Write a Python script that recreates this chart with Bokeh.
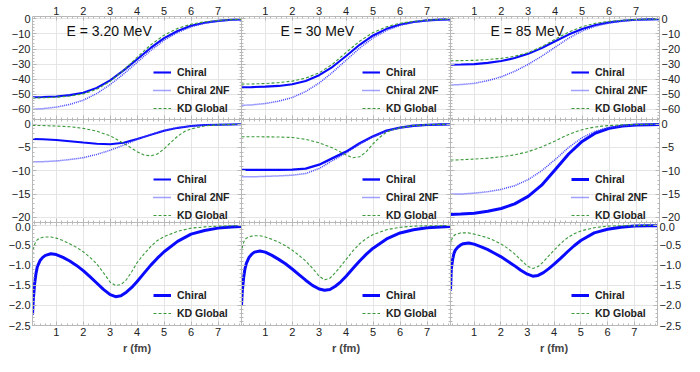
import numpy as np
from bokeh.plotting import figure
from bokeh.layouts import column, row
from bokeh.models import Range1d, LinearAxis, FixedTicker, Label, CustomLabelingPolicy
from bokeh.embed import file_html
from bokeh.resources import INLINE

# ---------------- data ----------------
ENERGIES = ["E = 3.20 MeV", "E = 30 MeV", "E = 85 MeV"]

R_V = [0.12, 0.5, 1.0, 1.5, 2.0, 2.5, 3.0, 3.5, 4.0, 4.5, 5.0, 5.5, 6.0, 6.5, 7.0, 7.5, 7.87]
VV_CHIRAL = [
    [-52.0, -51.9, -51.5, -50.6, -49.0, -45.8, -40.8, -34.2, -26.8, -19.3, -12.8, -8.0, -4.6, -2.5, -1.3, -0.6, -0.4],
    [-45.4, -45.3, -45.0, -44.5, -43.4, -41.2, -37.4, -31.8, -24.6, -17.2, -11.0, -6.6, -3.7, -2.0, -1.0, -0.5, -0.3],
    [-30.4, -30.3, -30.0, -29.2, -28.0, -26.0, -23.2, -19.4, -14.8, -10.4, -6.7, -4.0, -2.3, -1.2, -0.6, -0.3, -0.2],
]
VV_2NF = [
    [-60.0, -59.6, -58.6, -56.8, -54.0, -49.6, -43.6, -36.6, -28.8, -21.0, -14.2, -9.0, -5.3, -2.9, -1.5, -0.8, -0.5],
    [-57.4, -57.1, -56.2, -54.6, -52.2, -48.2, -42.6, -35.4, -27.4, -19.4, -12.6, -7.6, -4.3, -2.3, -1.2, -0.6, -0.4],
    [-43.9, -43.6, -42.8, -41.0, -38.5, -34.8, -30.2, -24.8, -18.8, -12.8, -8.0, -4.8, -2.7, -1.4, -0.7, -0.4, -0.2],
]
VV_KD = [
    [-52.5, -52.4, -52.0, -51.2, -49.8, -46.8, -41.5, -34.0, -25.5, -17.3, -10.8, -6.3, -3.5, -1.9, -1.0, -0.5, -0.3],
    [-43.3, -43.2, -42.9, -42.3, -41.3, -39.3, -35.8, -30.0, -22.3, -14.8, -9.0, -5.2, -2.9, -1.6, -0.8, -0.4, -0.2],
    [-27.8, -27.7, -27.5, -27.0, -26.2, -24.8, -22.4, -18.5, -13.5, -8.8, -5.2, -2.9, -1.6, -0.8, -0.4, -0.2, -0.1],
]

R_W = [0.12, 0.5, 1.0, 1.5, 2.0, 2.5, 3.0, 3.5, 4.0, 4.5, 5.0, 5.5, 6.0, 6.5, 7.0, 7.5, 7.87]
W_CHIRAL = [
    [-3.2, -3.25, -3.4, -3.65, -3.95, -4.2, -4.3, -4.0, -3.2, -2.3, -1.4, -0.8, -0.4, -0.2, -0.1, -0.05, -0.03],
    [-9.8, -9.8, -9.8, -9.8, -9.75, -9.55, -8.7, -7.3, -5.9, -4.1, -2.6, -1.4, -0.75, -0.35, -0.15, -0.07, -0.04],
    [-19.4, -19.3, -19.1, -18.7, -18.1, -17.1, -15.5, -13.1, -9.8, -6.4, -3.7, -1.9, -0.9, -0.4, -0.2, -0.1, -0.05],
]
W_2NF = [
    [-8.1, -8.05, -7.9, -7.6, -7.2, -6.5, -5.6, -4.5, -3.3, -2.2, -1.3, -0.7, -0.4, -0.2, -0.1, -0.05, -0.03],
    [-11.3, -11.3, -11.2, -11.1, -10.95, -10.6, -9.5, -7.8, -6.2, -4.3, -2.7, -1.5, -0.8, -0.4, -0.17, -0.08, -0.05],
    [-15.0, -15.0, -14.8, -14.5, -14.0, -13.2, -11.9, -10.0, -7.6, -5.0, -2.9, -1.5, -0.7, -0.35, -0.15, -0.07, -0.04],
]
R_W_KD = [0.12, 0.5, 1.0, 1.5, 2.0, 2.5, 3.0, 3.5, 4.0, 4.25, 4.5, 4.75, 5.0, 5.25, 5.5, 5.75, 6.0, 6.5, 7.0, 7.5, 7.87]
W_KD = [
    [-0.3, -0.3, -0.4, -0.55, -0.9, -1.5, -2.5, -4.1, -5.9, -6.6, -6.8, -6.4, -5.3, -3.9, -2.6, -1.6, -1.0, -0.4, -0.15, -0.06, -0.03],
    [-2.7, -2.7, -2.72, -2.76, -2.85, -3.25, -4.0, -5.1, -6.6, -7.2, -7.0, -5.9, -4.2, -2.8, -1.7, -1.15, -0.75, -0.3, -0.12, -0.05, -0.03],
    [-7.7, -7.65, -7.5, -7.3, -7.0, -6.6, -5.9, -4.9, -3.6, -2.9, -2.2, -1.65, -1.2, -0.85, -0.6, -0.42, -0.3, -0.15, -0.07, -0.03, -0.02],
]

R_SO = [0.12, 0.15, 0.2, 0.25, 0.3, 0.4, 0.5, 0.6, 0.8, 1.0, 1.25, 1.5, 1.75, 2.0, 2.25, 2.5, 2.75,
        3.0, 3.2, 3.4, 3.6, 3.8, 4.0, 4.25, 4.5, 4.75, 5.0, 5.5, 6.0, 6.5, 7.0, 7.5, 7.87]
SO_CHIRAL = [
    [-2.23, -1.85, -1.45, -1.2, -1.03, -0.88, -0.80, -0.75, -0.71, -0.73, -0.80, -0.89, -1.0, -1.13, -1.28, -1.44, -1.60,
     -1.73, -1.78, -1.76, -1.67, -1.55, -1.40, -1.20, -1.00, -0.82, -0.66, -0.40, -0.22, -0.13, -0.07, -0.04, -0.03],
    [-1.99, -1.65, -1.3, -1.08, -0.95, -0.80, -0.72, -0.67, -0.64, -0.67, -0.75, -0.85, -0.96, -1.09, -1.23, -1.37, -1.50,
     -1.59, -1.62, -1.60, -1.52, -1.41, -1.27, -1.08, -0.89, -0.72, -0.57, -0.34, -0.19, -0.11, -0.06, -0.04, -0.03],
    [-1.63, -1.1, -0.85, -0.70, -0.62, -0.54, -0.49, -0.46, -0.44, -0.47, -0.53, -0.60, -0.69, -0.78, -0.89, -1.0, -1.12,
     -1.22, -1.27, -1.25, -1.18, -1.08, -0.97, -0.82, -0.66, -0.51, -0.38, -0.19, -0.10, -0.05, -0.02, -0.01, -0.01],
]
SO_KD = [
    [-0.74, -0.6, -0.47, -0.4, -0.36, -0.32, -0.30, -0.29, -0.29, -0.32, -0.38, -0.46, -0.55, -0.66, -0.80, -0.96, -1.18,
     -1.42, -1.50, -1.48, -1.36, -1.16, -0.93, -0.72, -0.53, -0.38, -0.28, -0.15, -0.07, -0.04, -0.02, -0.01, -0.01],
    [-0.70, -0.55, -0.42, -0.36, -0.32, -0.29, -0.27, -0.26, -0.26, -0.29, -0.35, -0.42, -0.51, -0.62, -0.75, -0.89, -1.07,
     -1.27, -1.36, -1.32, -1.18, -1.02, -0.85, -0.64, -0.46, -0.33, -0.23, -0.11, -0.05, -0.02, -0.01, -0.01, 0.0],
    [-0.50, -0.38, -0.30, -0.26, -0.23, -0.21, -0.19, -0.19, -0.19, -0.22, -0.26, -0.31, -0.38, -0.46, -0.57, -0.70, -0.86,
     -1.02, -1.08, -1.03, -0.91, -0.76, -0.62, -0.45, -0.31, -0.21, -0.14, -0.06, -0.02, -0.01, -0.01, 0.0, 0.0],
]

X_TICKS = [1, 2, 3, 4, 5, 6, 7]
Y_TICKS = [
    [0, -10, -20, -30, -40, -50, -60],
    [0, -5, -10, -15, -20],
    [0.0, -0.5, -1.0, -1.5, -2.0, -2.5],
]
Y_TICK_LABELS = [
    ["0", "\u221210", "\u221220", "\u221230", "\u221240", "\u221250", "\u221260"],
    ["0", "\u22125", "\u221210", "\u221215", "\u221220"],
    ["0.0", "\u22120.5", "\u22121.0", "\u22121.5", "\u22122.0", "\u22122.5"],
]

# ---------------- layout / style ----------------
XR = (0.12, 7.87)
YR = [(-66.8, 1.6), (-21.1, 1.0), (-2.5, 0.07)]
X_MINOR = [round(0.2 * i, 1) for i in range(1, 40)]
Y_MINOR = [
    [-2 * i for i in range(0, 34)],
    [-i for i in range(0, 22)],
    [round(-0.1 * i, 1) for i in range(0, 26)],
]
FW, FH = 209, 103
LB, RB, TB, BB = 32, 25, 16, 31
FONT = "Liberation Sans"
C_CHIRAL = "#0a0aff"
C_2NF = "#4040ff"
C_KD = "#3a9a3a"
AX_C = "#b8b8b8"
LEG_Y = [5, 1, 6]
TITLE_X = [34, 39, 40]
TITLE_DY = 14

HIDE_LABELS = "for (const i of [...indices]) { indices.unset(i) }\nreturn indices"


def style_axis(ax, show, labels=None):
    ax.axis_line_color = AX_C
    ax.major_tick_line_color = AX_C
    ax.minor_tick_line_color = AX_C
    ax.major_tick_in = 4
    ax.major_tick_out = 0
    ax.minor_tick_in = 2
    ax.minor_tick_out = 0
    ax.major_label_text_font = FONT
    ax.major_label_text_color = "#222222"
    if show:
        ax.major_label_text_font_size = "11px"
        ax.major_label_standoff = 2
        if labels:
            ax.major_label_overrides = labels
    else:
        ax.major_label_text_font_size = "0px"
        ax.major_label_standoff = 0
        ax.major_label_policy = CustomLabelingPolicy(code=HIDE_LABELS)


def add_rot_title(p, parts, y_center):
    # parts: (text, size, style, dx, length)
    total = sum(pt[4] for pt in parts)
    y = y_center - total / 2.0
    for text, size, style, dx, length in parts:
        p.add_layout(Label(x=-27 + dx, y=y, x_units="screen", y_units="screen", text=text,
                           angle=np.pi / 2, text_font=FONT, text_font_size=size, text_font_style=style,
                           text_align="left", text_baseline="middle", text_color="#111111"))
        y += length


rows = []
for ri in range(3):
    figs = []
    for ci in range(3):
        w = FW + (LB if ci == 0 else 0) + (RB if ci == 2 else 0)
        h = FH + (TB if ri == 0 else 0) + (BB if ri == 2 else 0)
        p = figure(width=w, height=h, x_range=Range1d(*XR), y_range=Range1d(*YR[ri]),
                   output_backend="svg", toolbar_location=None,
                   x_axis_location=None, y_axis_location=None,
                   min_border=0,
                   min_border_left=LB if ci == 0 else 0,
                   min_border_right=RB if ci == 2 else 0,
                   min_border_top=TB if ri == 0 else 0,
                   min_border_bottom=BB if ri == 2 else 0)
        p.outline_line_color = None
        p.background_fill_color = "white"
        p.border_fill_color = "white"

        ylab = {v: s for v, s in zip(Y_TICKS[ri], Y_TICK_LABELS[ri])}
        for side in ["left", "right"]:
            show = (side == "left" and ci == 0) or (side == "right" and ci == 2)
            ax = LinearAxis(ticker=FixedTicker(ticks=Y_TICKS[ri], minor_ticks=Y_MINOR[ri]))
            style_axis(ax, show, ylab)
            p.add_layout(ax, side)
        for side in ["above", "below"]:
            show = (side == "above" and ri == 0) or (side == "below" and ri == 2)
            ax = LinearAxis(ticker=FixedTicker(ticks=X_TICKS, minor_ticks=X_MINOR))
            style_axis(ax, show)
            if side == "below" and ri == 2:
                ax.axis_label = "r (fm)"
                ax.axis_label_text_font = FONT
                ax.axis_label_text_font_style = "bold"
                ax.axis_label_text_font_size = "11px"
                ax.axis_label_standoff = 3
            p.add_layout(ax, side)

        if ri == 0:
            p.line(R_V, VV_CHIRAL[ci], color=C_CHIRAL, line_width=2.1, legend_label="Chiral")
            p.line(R_V, VV_2NF[ci], color=C_2NF, line_width=1.5, line_dash="1 1", legend_label="Chiral 2NF")
            p.line(R_V, VV_KD[ci], color=C_KD, line_width=1.1, line_dash="3 2", legend_label="KD Global")
            p.add_layout(Label(x=TITLE_X[ci], y=FH - TITLE_DY, x_units="screen", y_units="screen",
                               text=ENERGIES[ci], text_font=FONT, text_font_size="14px",
                               text_baseline="middle", text_color="#111111"))
        elif ri == 1:
            p.line(R_W, W_CHIRAL[ci], color=C_CHIRAL, line_width=[2.0, 2.4, 3.0][ci], legend_label="Chiral")
            p.line(R_W, W_2NF[ci], color=C_2NF, line_width=1.5, line_dash="1 1", legend_label="Chiral 2NF")
            p.line(R_W_KD, W_KD[ci], color=C_KD, line_width=1.1, line_dash="3 2", legend_label="KD Global")
        else:
            p.line(R_SO, SO_CHIRAL[ci], color=C_CHIRAL, line_width=3.0, legend_label="Chiral")
            p.line(R_SO, SO_KD[ci], color=C_KD, line_width=1.1, line_dash="3 2", legend_label="KD Global")

        lg = p.legend[0]
        lg.location = (121, LEG_Y[ri])
        lg.border_line_color = None
        lg.background_fill_alpha = 0
        lg.padding = 0
        lg.margin = 0
        lg.spacing = 6
        lg.glyph_width = 18
        lg.glyph_height = 12
        lg.label_height = 12
        lg.label_standoff = 6
        lg.label_text_font = FONT
        lg.label_text_font_style = "bold"
        lg.label_text_font_size = "10.5px"
        lg.label_text_color = "#222222"

        if ci == 0:
            if ri == 0:
                add_rot_title(p, [("V", "11.5px", "bold", 0, 7.7), ("V", "8px", "bold italic", 3, 5.4),
                                  (" (MeV)", "11.5px", "bold", 0, 34)], FH / 2 + 5)
            elif ri == 1:
                add_rot_title(p, [("W", "11.5px", "bold", 0, 10.9), ("V", "8px", "bold italic", 3, 5.4),
                                  ("+", "11.5px", "bold", 0, 6.7), ("W", "11.5px", "bold", 0, 10.9),
                                  ("D", "8px", "bold italic", 3, 5.8), (" (MeV)", "11.5px", "bold", 0, 34)], FH / 2)
            else:
                add_rot_title(p, [("V", "11.5px", "bold", 0, 7.7), ("SO", "8px", "bold", 3, 11.6),
                                  (" (MeV)", "11.5px", "bold", 0, 34)], FH / 2 + 4)
        figs.append(p)
    rows.append(row(*figs, spacing=0))

layout = column(*rows, spacing=0)
open("out.html", "w").write(file_html(layout, INLINE))
